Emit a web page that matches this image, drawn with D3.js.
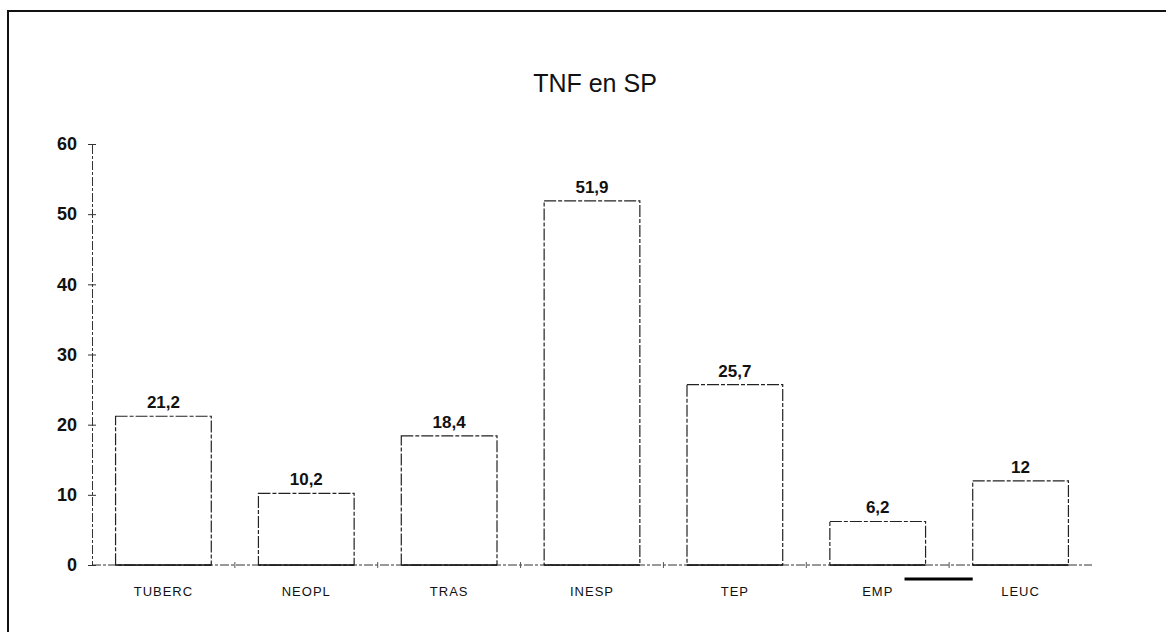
<!DOCTYPE html>
<html>
<head>
<meta charset="utf-8">
<script src="https://cdn.jsdelivr.net/npm/d3@7"></script>
<style>
  html, body { margin: 0; padding: 0; background: #fff; }
  svg { display: block; }
  text { font-family: "Liberation Sans", Arial, sans-serif; fill: #111; }
</style>
</head>
<body>
<svg id="chart" width="1166" height="632"></svg>
<script>
// Data
const categories = ["TUBERC", "NEOPL", "TRAS", "INESP", "TEP", "EMP", "LEUC"];
const values = [21.2, 10.2, 18.4, 51.9, 25.7, 6.2, 12];
const valueLabels = ["21,2", "10,2", "18,4", "51,9", "25,7", "6,2", "12"];
const yTicks = [0, 10, 20, 30, 40, 50, 60];
const title = "TNF en SP";

const svg = d3.select("#chart");
const W = 1166, H = 632;
const plot = { left: 92, right: 1092, top: 144, bottom: 565 };

// Outer frame: left and top edges
svg.append("path")
  .attr("d", `M8,632 L8,11 L${W},11`)
  .attr("fill", "none").attr("stroke", "#111").attr("stroke-width", 2);

const x = d3.scaleBand()
  .domain(categories)
  .range([plot.left, plot.right])
  .paddingInner(0.33)
  .paddingOuter(0.165);

const y = d3.scaleLinear().domain([0, 60]).range([plot.bottom, plot.top]);

// Title
svg.append("text")
  .attr("x", 595).attr("y", 92)
  .attr("text-anchor", "middle")
  .style("font-size", "25px")
  .text(title);

// Y axis
const yAxis = svg.append("g").attr("transform", `translate(${plot.left},0)`)
  .call(d3.axisLeft(y).tickValues(yTicks).tickSize(4).tickPadding(11));
yAxis.select(".domain").attr("stroke", "#333").attr("stroke-width", 1)
  .attr("stroke-dasharray", "9,2,3,2");
yAxis.selectAll(".tick line").attr("stroke", "#333").attr("x2", 4).attr("x1", -4);
yAxis.selectAll(".tick text")
  .style("font-size", "18px").style("font-weight", "bold")
  .style("font-family", "'Liberation Sans', Arial, sans-serif")
  .attr("fill", "#111");

// X axis line with ticks at the category boundaries
const step = x.step();
const boundaries = categories.slice(1).map(c => x(c) - (step - x.bandwidth()) / 2);
svg.append("line")
  .attr("x1", plot.left).attr("x2", plot.right)
  .attr("y1", y(0)).attr("y2", y(0))
  .attr("stroke", "#333").attr("stroke-width", 1)
  .attr("stroke-dasharray", "9,2,3,2");
svg.selectAll(".xtick").data(boundaries).join("line")
  .attr("class", "xtick")
  .attr("x1", d => d).attr("x2", d => d)
  .attr("y1", y(0) - 3).attr("y2", y(0) + 3)
  .attr("stroke", "#555");

// Category labels
svg.selectAll(".cat").data(categories).join("text")
  .attr("class", "cat")
  .attr("x", d => x(d) + x.bandwidth() / 2)
  .attr("y", y(0) + 31)
  .attr("text-anchor", "middle")
  .style("font-size", "13px")
  .style("letter-spacing", "1px")
  .text(d => d);

// Bars (outlined, white fill)
svg.selectAll(".bar").data(values).join("rect")
  .attr("class", "bar")
  .attr("x", (d, i) => x(categories[i]))
  .attr("y", d => y(d))
  .attr("width", x.bandwidth())
  .attr("height", d => y(0) - y(d))
  .attr("fill", "#fff")
  .attr("stroke", "#222")
  .attr("stroke-width", 1.2)
  .attr("stroke-dasharray", "12,2,4,2");

// Baseline under the bars
svg.selectAll(".base").data(values).join("line")
  .attr("class", "base")
  .attr("x1", (d, i) => x(categories[i]))
  .attr("x2", (d, i) => x(categories[i]) + x.bandwidth())
  .attr("y1", y(0)).attr("y2", y(0))
  .attr("stroke", "#111").attr("stroke-width", 1.6);

// Value labels
svg.selectAll(".val").data(values).join("text")
  .attr("class", "val")
  .attr("x", (d, i) => x(categories[i]) + x.bandwidth() / 2)
  .attr("y", d => y(d) - 8)
  .attr("text-anchor", "middle")
  .style("font-size", "17px").style("font-weight", "bold")
  .text((d, i) => valueLabels[i]);

// Short heavy rule below the axis between EMP and LEUC
svg.append("line")
  .attr("x1", x("EMP") + x.bandwidth() * 0.78)
  .attr("x2", x("LEUC"))
  .attr("y1", y(0) + 14).attr("y2", y(0) + 14)
  .attr("stroke", "#000").attr("stroke-width", 3);
</script>
</body>
</html>
